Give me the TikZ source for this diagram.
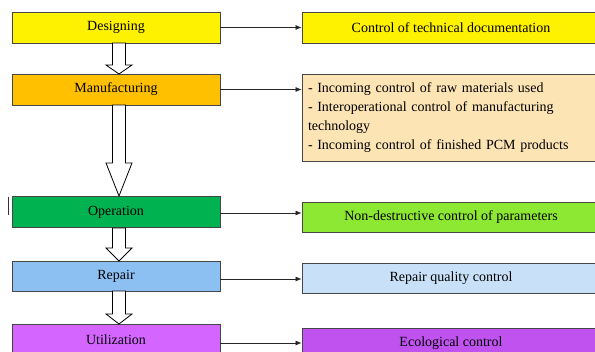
\documentclass[tikz,border=0pt]{standalone}
\usepackage{fontspec}
\setmainfont{Liberation Serif}
\usetikzlibrary{calc,arrows.meta}
\definecolor{cdes}{RGB}{255,242,0}
\definecolor{cman}{RGB}{255,192,0}
\definecolor{clist}{RGB}{252,228,180}
\definecolor{cop}{RGB}{0,178,80}
\definecolor{cnd}{RGB}{140,232,50}
\definecolor{crep}{RGB}{140,192,242}
\definecolor{crq}{RGB}{200,225,248}
\definecolor{cut}{RGB}{212,102,255}
\definecolor{ceco}{RGB}{192,82,240}
\definecolor{cborder}{RGB}{70,70,70}
\tikzset{
  lbox/.style={draw=cborder, line width=0.8pt, minimum width=208pt, minimum height=31pt, inner sep=0pt, font=\fontsize{14}{16}\selectfont},
  rbox/.style={draw=cborder, line width=0.8pt, minimum width=298pt, minimum height=30pt, inner sep=0pt, font=\fontsize{14}{16}\selectfont},
  harr/.style={draw=black!85, line width=0.7pt, -{Latex[length=6pt,width=5pt]}},
  blockarr/.style={draw=black, line width=0.8pt, fill=white, line join=miter}
}
\newcommand{\blockarrow}[3]{% from y, to y, head start y
  \draw[blockarr] (112.5,#1) -- (112.5,#3) -- (106,#3) -- (119,#2) -- (132,#3) -- (125.5,#3) -- (125.5,#1) -- cycle;
}
\begin{document}
\begin{tikzpicture}[x=1pt,y=-1pt]
\useasboundingbox (0,0) rectangle (595,352);
\clip (0,0) rectangle (595,352);
\fill[white] (0,0) rectangle (595,352);
% left boxes
\node[lbox, fill=cdes] (des) at (116,27.5) {Designing};
\node[lbox, fill=cman] (man) at (116,89.5) {Manufacturing};
\node[lbox, fill=cop, minimum height=31pt] (op) at (116,212) {Operation};
\node[lbox, fill=crep, minimum height=30pt] (rep) at (116,276) {Repair};
\node[lbox, fill=cut] (util) at (116,339.5) {Utilization};
% right boxes
\node[rbox, fill=cdes, minimum height=31pt] (ctd) at (451,27.5) {Control of technical documentation};
\node[rbox, fill=clist, minimum height=87pt, align=left, text width=286pt, font=\fontsize{14}{19}\selectfont] (list) at (451,117.5) {- Incoming control of raw materials used\\- Interoperational control of manufacturing\\technology\\- Incoming control of finished PCM products};
\node[rbox, fill=cnd] (ndc) at (451,217) {Non-destructive control of parameters};
\node[rbox, fill=crq] (rqc) at (451,278) {Repair quality control};
\node[rbox, fill=ceco, minimum height=31pt] (eco) at (451,343.5) {Ecological control};
% horizontal arrows
\draw[harr] (des.east) -- (des.east -| ctd.west);
\draw[harr] (man.east) -- (man.east -| list.west);
\draw[harr] ($(op.east)+(0,1)$) -- ($(op.east -| ndc.west)+(0,1)$);
\draw[harr] ($(rep.east)+(0,3)$) -- ($(rep.east -| rqc.west)+(0,3)$);
\draw[harr] ($(util.east)+(0,3.5)$) -- ($(util.east -| eco.west)+(0,3.5)$);
% block arrows
\blockarrow{43}{74}{65}
\blockarrow{105}{196}{163}
\blockarrow{228}{261}{248}
\blockarrow{291}{324}{314}
% stray mark
\coordinate (s1) at (8,197);
\coordinate (s2) at (8,215);
\draw[line width=0.9pt, black!80] (s1) -- (s2);
\end{tikzpicture}
\end{document}
